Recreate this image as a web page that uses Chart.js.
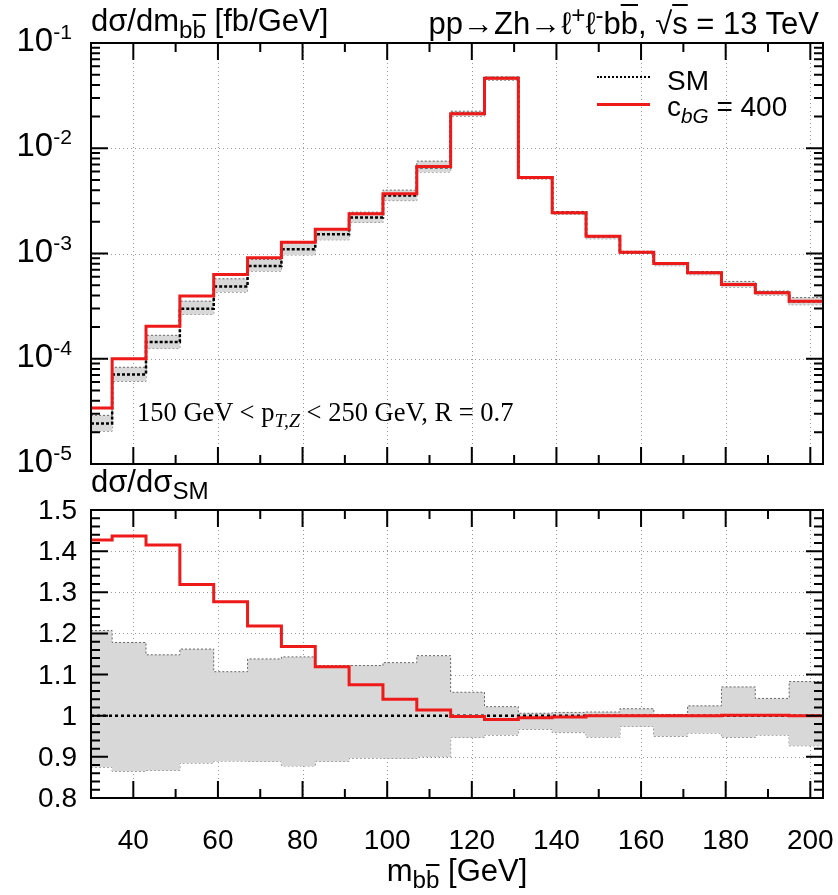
<!DOCTYPE html>
<html lang="en">
<head>
<meta charset="UTF-8">
<title>Zh m_bb distribution</title>
<script src="https://cdn.jsdelivr.net/npm/chart.js"></script>
<style>
    body { margin: 0; background: #fff; }
    #wrap {
        position: relative;
        width: 838px;
        height: 895px;
        background: #fff;
        font-family: "Liberation Sans", Arial, Helvetica, sans-serif;
        color: #000;
        overflow: hidden;
    }
    canvas { position: absolute; left: 0; }
    #topChart { top: 0; }
    #ratioChart { top: 480px; }
    .lbl { position: absolute; white-space: nowrap; font-size: 31px; line-height: 1; }
    .lbl sub, .lbl sup { font-size: 78%; line-height: 0; }
    .ob { text-decoration: overline; text-decoration-thickness: 2px; }
    .legend { font-size: 28px; }
    .legend sub { font-size: 74%; }
    .serif { font-family: "Liberation Serif", "Times New Roman", serif; font-size: 26.5px; }
    .serif sub { font-size: 75%; }
    .tick { position: absolute; font-size: 28px; line-height: 28px; white-space: nowrap; }
    .ytick { text-align: right; width: 100px; }
    .xtick { text-align: center; width: 80px; }
    .logtick { font-size: 33px; line-height: 33px; }
    .logtick sup { font-size: 64%; line-height: 0; }
    .key { position: absolute; left: 597px; width: 53px; }
</style>
</head>
<body>
<div id="wrap">
    <canvas id="topChart" width="838" height="470"></canvas>
    <canvas id="ratioChart" width="838" height="415"></canvas>

    <div class="lbl" style="left:91px; top:5px;">dσ/dm<sub>b<span class="ob">b</span></sub> [fb/GeV]</div>
    <div class="lbl" style="right:19px; top:8px;">pp→Zh→ℓ<sup>+</sup>ℓ<sup>-</sup>b<span class="ob">b</span>, √<span class="ob">s</span> = 13 TeV</div>

    <!-- legend -->
    <div class="key" style="top:76px; border-top:2.5px dotted #000;"></div>
    <div class="lbl legend" style="left:667px; top:67px;">SM</div>
    <div class="key" style="top:103px; height:3px; background:#ee1a1a;"></div>
    <div class="lbl legend" style="left:667px; top:93px;">c<sub><i>bG</i></sub> = 400</div>

    <div class="lbl serif" style="left:137px; top:399px;">150 GeV &lt; p<sub><i>T,Z</i></sub> &lt; 250 GeV, R = 0.7</div>

    <div class="lbl" style="left:91px; top:466px;">dσ/dσ<sub>SM</sub></div>
    <div class="lbl" style="left:0; width:914px; text-align:center; top:855px;">m<sub>b<span class="ob">b</span></sub> [GeV]</div>
</div>

<script>
    // bin edges of the m_bb histogram (GeV)
    const binEdges = [30, 35, 43, 51, 59, 67, 75, 83, 91, 99, 107, 115, 123, 131, 139, 147, 155, 163, 171, 179, 187, 195, 203];

    // upper panel: d sigma / d m_bb [fb/GeV]
    const smTop     = [2.43e-5, 7.1e-5, 1.44e-4, 2.99e-4, 4.85e-4, 7.6e-4, 1.10e-3, 1.52e-3, 2.20e-3, 3.55e-3, 6.6e-3, 2.13e-2, 4.65e-2, 5.28e-3, 2.45e-3, 1.46e-3, 1.03e-3, 8.05e-4, 6.56e-4, 5.08e-4, 4.23e-4, 3.52e-4];
    const smTopLow  = [2.05e-5, 6.1e-5, 1.25e-4, 2.64e-4, 4.30e-4, 6.8e-4, 9.7e-4, 1.35e-3, 1.97e-3, 3.18e-3, 5.95e-3, 2.02e-2, 4.43e-2, 5.10e-3, 2.35e-3, 1.38e-3, 1.00e-3, 7.65e-4, 6.28e-4, 4.80e-4, 4.03e-4, 3.26e-4];
    const smTopHigh = [2.90e-5, 8.3e-5, 1.67e-4, 3.53e-4, 5.75e-4, 8.8e-4, 1.26e-3, 1.70e-3, 2.47e-3, 4.00e-3, 7.55e-3, 2.25e-2, 4.75e-2, 5.33e-3, 2.47e-3, 1.47e-3, 1.05e-3, 8.08e-4, 6.72e-4, 5.43e-4, 4.40e-4, 3.81e-4];
    const cbgTop    = [3.40e-5, 1.0e-4, 2.04e-4, 3.94e-4, 6.30e-4, 9.1e-4, 1.28e-3, 1.70e-3, 2.39e-3, 3.70e-3, 6.7e-3, 2.13e-2, 4.62e-2, 5.26e-3, 2.44e-3, 1.46e-3, 1.03e-3, 8.05e-4, 6.56e-4, 5.08e-4, 4.23e-4, 3.52e-4];

    // lower panel: ratio to SM
    const smRatio     = [1, 1, 1, 1, 1, 1, 1, 1, 1, 1, 1, 1, 1, 1, 1, 1, 1, 1, 1, 1, 1, 1];
    const smRatioLow  = [0.875, 0.865, 0.867, 0.885, 0.890, 0.889, 0.878, 0.889, 0.897, 0.896, 0.900, 0.947, 0.953, 0.967, 0.959, 0.948, 0.974, 0.950, 0.958, 0.947, 0.953, 0.927];
    const smRatioHigh = [1.207, 1.178, 1.148, 1.162, 1.107, 1.138, 1.143, 1.122, 1.122, 1.129, 1.146, 1.057, 1.022, 1.006, 1.008, 1.009, 1.017, 1.003, 1.024, 1.070, 1.042, 1.083];
    const cbgRatio    = [1.427, 1.437, 1.415, 1.319, 1.277, 1.218, 1.168, 1.119, 1.075, 1.040, 1.014, 0.998, 0.991, 0.995, 0.997, 1.000, 1.000, 1.000, 1.000, 1.001, 1.001, 1.000];

    // axis ticks
    const xTicks = [40, 60, 80, 100, 120, 140, 160, 180, 200];
    const xMinorTicks = [50, 70, 90, 110, 130, 150, 170, 190];
    const logTicks = [1e-1, 1e-2, 1e-3, 1e-4, 1e-5];
    const ratioTicks = [0.8, 0.9, 1.0, 1.1, 1.2, 1.3, 1.4, 1.5];
    const ratioLabels = ['0.8', '0.9', '1', '1.1', '1.2', '1.3', '1.4', '1.5'];

    const RED = '#ee1a1a';
    const BAND = '#d8d8d8';

    // histogram as stepped line: one point per left edge plus the last right edge
    function steps(vals) {
        return binEdges.map((e, i) => ({ x: e, y: vals[Math.min(i, vals.length - 1)] }));
    }

    // log minor ticks 2..9 in every decade
    const logMinor = [];
    logTicks.slice(1).forEach(d => { for (let k = 2; k <= 9; k++) logMinor.push(d * k); });

    // ratio minor ticks every 0.02
    const ratioMinor = [];
    for (let i = 0; i < 7; i++) for (let k = 1; k <= 4; k++) ratioMinor.push(ratioTicks[i] + k * 0.02);

    // gnuplot style: dotted grid, frame and inward ticks on all four sides
    const frameTicks = {
        id: 'frameTicks',
        beforeDatasetsDraw(chart, args, o) {
            const { ctx, chartArea: a, scales: { x, y } } = chart;
            ctx.save();
            ctx.strokeStyle = '#9a9a9a';
            ctx.lineWidth = 1;
            ctx.setLineDash([1, 3]);
            ctx.beginPath();
            o.gridX.forEach(v => {
                const px = Math.round(x.getPixelForValue(v)) + 0.5;
                ctx.moveTo(px, a.top); ctx.lineTo(px, a.bottom);
            });
            o.gridY.forEach(v => {
                const py = Math.round(y.getPixelForValue(v)) + 0.5;
                ctx.moveTo(a.left, py); ctx.lineTo(a.right, py);
            });
            ctx.stroke();
            ctx.restore();
        },
        afterDatasetsDraw(chart, args, o) {
            const { ctx, chartArea: a, scales: { x, y } } = chart;
            ctx.save();
            ctx.strokeStyle = '#000';
            ctx.lineWidth = 2;
            ctx.setLineDash([]);
            ctx.beginPath();
            const tickX = (v, len) => {
                const px = x.getPixelForValue(v);
                ctx.moveTo(px, a.bottom); ctx.lineTo(px, a.bottom - len);
                ctx.moveTo(px, a.top); ctx.lineTo(px, a.top + len);
            };
            const tickY = (v, len) => {
                const py = y.getPixelForValue(v);
                ctx.moveTo(a.left, py); ctx.lineTo(a.left + len, py);
                ctx.moveTo(a.right, py); ctx.lineTo(a.right - len, py);
            };
            o.xMajor.forEach(v => tickX(v, 17));
            o.xMinor.forEach(v => tickX(v, 9));
            o.yMajor.forEach(v => tickY(v, 17));
            o.yMinor.forEach(v => tickY(v, 9));
            ctx.stroke();
            ctx.strokeRect(a.left, a.top, a.right - a.left, a.bottom - a.top);
            ctx.restore();
        }
    };

    const bandLine = { borderColor: '#666', borderWidth: 1, borderDash: [2, 2] };

    function histDatasets(cbg, sm, low, high, smDash) {
        return [
            { label: 'c_bG = 400', data: steps(cbg), borderColor: RED, borderWidth: 3, stepped: true, order: 0 },
            { label: 'SM', data: steps(sm), borderColor: '#000', borderWidth: 2.5, borderDash: smDash, stepped: true, order: 1 },
            { label: 'SM high', data: steps(high), ...bandLine, backgroundColor: BAND, fill: '+1', stepped: true, order: 2 },
            { label: 'SM low', data: steps(low), ...bandLine, fill: false, stepped: true, order: 3 }
        ];
    }

    function baseOptions(padding, yScale, frame) {
        return {
            responsive: false,
            animation: false,
            events: [],
            layout: { padding: padding },
            elements: { point: { radius: 0 } },
            scales: {
                x: { type: 'linear', min: 30, max: 203, display: false },
                y: Object.assign({ display: false }, yScale)
            },
            plugins: {
                legend: { display: false },
                tooltip: { enabled: false },
                frameTicks: frame
            }
        };
    }

    // upper panel
    const topChart = new Chart(document.getElementById('topChart'), {
        type: 'line',
        data: { datasets: histDatasets(cbgTop, smTop, smTopLow, smTopHigh, [3, 2]) },
        options: baseOptions(
            { left: 91, right: 15, top: 43, bottom: 6 },
            { type: 'logarithmic', min: 1e-5, max: 1e-1 },
            { gridX: xTicks, gridY: [1e-2, 1e-3, 1e-4], xMajor: xTicks, xMinor: xMinorTicks, yMajor: logTicks, yMinor: logMinor }
        ),
        plugins: [frameTicks]
    });

    // ratio panel
    const ratioChart = new Chart(document.getElementById('ratioChart'), {
        type: 'line',
        data: { datasets: histDatasets(cbgRatio, smRatio, smRatioLow, smRatioHigh, [3, 3]) },
        options: baseOptions(
            { left: 91, right: 15, top: 30, bottom: 97 },
            { type: 'linear', min: 0.8, max: 1.5 },
            { gridX: xTicks, gridY: [0.9, 1.1, 1.2, 1.3, 1.4], xMajor: xTicks, xMinor: xMinorTicks, yMajor: ratioTicks, yMinor: ratioMinor }
        ),
        plugins: [frameTicks]
    });

    // tick labels, placed through the charts' own scales
    const wrap = document.getElementById('wrap');
    function addLabel(cls, html, left, top) {
        const d = document.createElement('div');
        d.className = 'tick ' + cls;
        d.style.left = left + 'px';
        d.style.top = top + 'px';
        d.innerHTML = html;
        wrap.appendChild(d);
    }

    logTicks.forEach(v => {
        const py = topChart.scales.y.getPixelForValue(v);
        addLabel('ytick logtick', '10<sup>' + Math.round(Math.log10(v)) + '</sup>', 72 - 100, py - 20);
    });

    const ratioTop = 480;
    ratioTicks.forEach((v, i) => {
        const py = ratioTop + ratioChart.scales.y.getPixelForValue(v);
        addLabel('ytick', ratioLabels[i], 77 - 100, py - 14);
    });

    xTicks.forEach(v => {
        const px = ratioChart.scales.x.getPixelForValue(v);
        addLabel('xtick', String(v), px - 40, 826);
    });
</script>
</body>
</html>
